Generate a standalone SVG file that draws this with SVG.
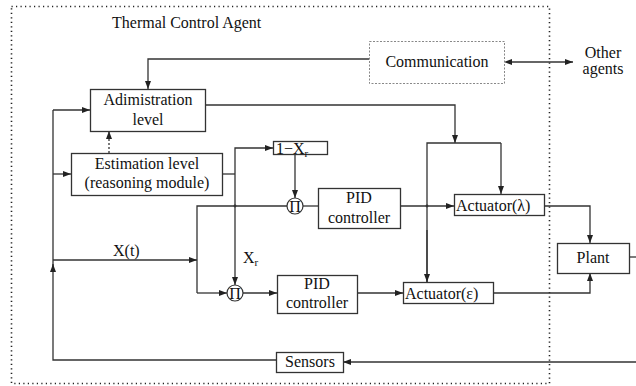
<svg xmlns="http://www.w3.org/2000/svg" width="636" height="386" viewBox="0 0 636 386" font-family="'Liberation Serif', 'Times New Roman', Times, 'DejaVu Serif', serif">
<style>
text{font-family:'Liberation Serif','Times New Roman',Times,'DejaVu Serif',serif;font-size:16px;fill:#111}
.box{fill:#fff;stroke:#333;stroke-width:1.3}
.ln{fill:none;stroke:#333;stroke-width:1.3}
.arr{fill:none;stroke:#333;stroke-width:1.3;marker-end:url(#ah)}
.c{text-anchor:middle}
</style>
<defs>
<marker id="ah" viewBox="0 0 8 6" refX="8" refY="3" markerWidth="8" markerHeight="6" markerUnits="userSpaceOnUse" orient="auto">
<path d="M0,0 L8,3 L0,6 Z" fill="#222"/>
</marker>
<marker id="ahs" viewBox="0 0 8 6" refX="0" refY="3" markerWidth="8" markerHeight="6" markerUnits="userSpaceOnUse" orient="auto-start-reverse">
<path d="M0,0 L8,3 L0,6 Z" fill="#222"/>
</marker>
</defs>
<rect width="636" height="386" fill="#fff"/>

<g id="agent-boundary">
<rect x="11.5" y="6.5" width="538" height="377" fill="none" stroke="#222" stroke-width="1.6" stroke-dasharray="1.2 3.3"/>
<text x="112" y="28" font-family="Liberation Serif">Thermal Control Agent</text>
</g>

<g id="connectors">
<polyline class="arr" points="369,59 148,59 148,89"/>
<line class="arr" x1="512" y1="62" x2="573" y2="62" marker-start="url(#ahs)"/>
<polyline class="arr" points="205,105 455,105 455,143"/>
<polyline class="ln" points="427,282 427,143 501,143"/>
<polyline class="arr" points="501,143 501,194"/>
<line class="arr" x1="427" y1="230" x2="427" y2="282"/>
<line class="arr" x1="109" y1="153" x2="109" y2="131" stroke-dasharray="2 2"/>
<polyline class="ln" points="276,360 53,360 53,110"/>
<line class="arr" x1="53" y1="272" x2="53" y2="264"/>
<line class="arr" x1="53" y1="110" x2="90" y2="110"/>
<line class="arr" x1="53" y1="174" x2="71" y2="174"/>
<line class="arr" x1="53" y1="260" x2="197" y2="260"/>
<polyline class="ln" points="287,206 197,206 197,293"/>
<line class="arr" x1="197" y1="293" x2="227" y2="293"/>
<polyline class="ln" points="222,174 235,174"/>
<polyline class="arr" points="235,174 235,148 273,148"/>
<line class="arr" x1="235" y1="174" x2="235" y2="285"/>
<circle cx="235" cy="206" r="1.4" fill="#333"/>
<line class="arr" x1="295" y1="154" x2="295" y2="198"/>
<line class="ln" x1="303" y1="206" x2="318" y2="206"/>
<line class="arr" x1="400" y1="206" x2="454" y2="206"/>
<circle cx="427" cy="206" r="1.4" fill="#333"/>
<polyline class="arr" points="544,206 590,206 590,243"/>
<line class="arr" x1="243" y1="293" x2="277" y2="293"/>
<line class="arr" x1="357" y1="293" x2="403" y2="293"/>
<polyline class="arr" points="493,293 590,293 590,273"/>
<line class="ln" x1="629" y1="257" x2="636" y2="257"/>
<line class="arr" x1="636" y1="362" x2="343" y2="362"/>
</g>

<g id="communication">
<rect x="369.5" y="41.5" width="135" height="42" fill="#fff" stroke="#888" stroke-width="1" stroke-dasharray="2 1.5"/>
<text class="c" x="437" y="67">Communication</text>
</g>

<g id="other-agents">
<text class="c" x="603" y="58">Other</text>
<text class="c" x="603" y="74">agents</text>
</g>

<g id="administration">
<rect class="box" x="90.5" y="89.5" width="115" height="42"/>
<text class="c" x="148" y="105">Adimistration</text>
<text class="c" x="148" y="125">level</text>
</g>

<g id="estimation">
<rect class="box" x="71.5" y="153.5" width="151" height="42"/>
<text class="c" x="147" y="169">Estimation level</text>
<text class="c" x="147" y="188">(reasoning module)</text>
</g>

<g id="one-minus-xr">
<rect class="box" x="273.5" y="141.5" width="54" height="13"/>
<text x="276" y="153.5">1−X<tspan font-size="11" dy="3">r</tspan></text>
</g>

<g id="mult-top">
<circle cx="295" cy="206" r="8" fill="#fff" stroke="#333" stroke-width="1.2"/>
<text class="c" x="295" y="211.5" font-size="15">Π</text>
</g>

<g id="mult-bottom">
<circle cx="235" cy="293" r="8" fill="#fff" stroke="#333" stroke-width="1.2"/>
<text class="c" x="235" y="298.5" font-size="15">Π</text>
</g>

<g id="labels">
<text x="113" y="256">X(t)</text>
<text x="243" y="263">X<tspan font-size="11" dy="3">r</tspan></text>
</g>

<g id="pid-top">
<rect class="box" x="318.5" y="188.5" width="82" height="40"/>
<text class="c" x="359" y="203">PID</text>
<text class="c" x="359" y="223">controller</text>
</g>

<g id="pid-bottom">
<rect class="box" x="277.5" y="275.5" width="80" height="38"/>
<text class="c" x="317" y="289">PID</text>
<text class="c" x="317" y="308">controller</text>
</g>

<g id="actuator-lambda">
<rect class="box" x="454.5" y="194.5" width="90" height="21"/>
<text x="456" y="210.5">Actuator(λ)</text>
</g>

<g id="actuator-epsilon">
<rect class="box" x="403.5" y="282.5" width="90" height="21"/>
<text x="405" y="298.5">Actuator(ε)</text>
</g>

<g id="plant">
<rect class="box" x="557.5" y="243.5" width="72" height="30"/>
<text class="c" x="593" y="263">Plant</text>
</g>

<g id="sensors">
<rect class="box" x="276.5" y="352.5" width="67" height="20"/>
<text class="c" x="310" y="367">Sensors</text>
</g>
</svg>
